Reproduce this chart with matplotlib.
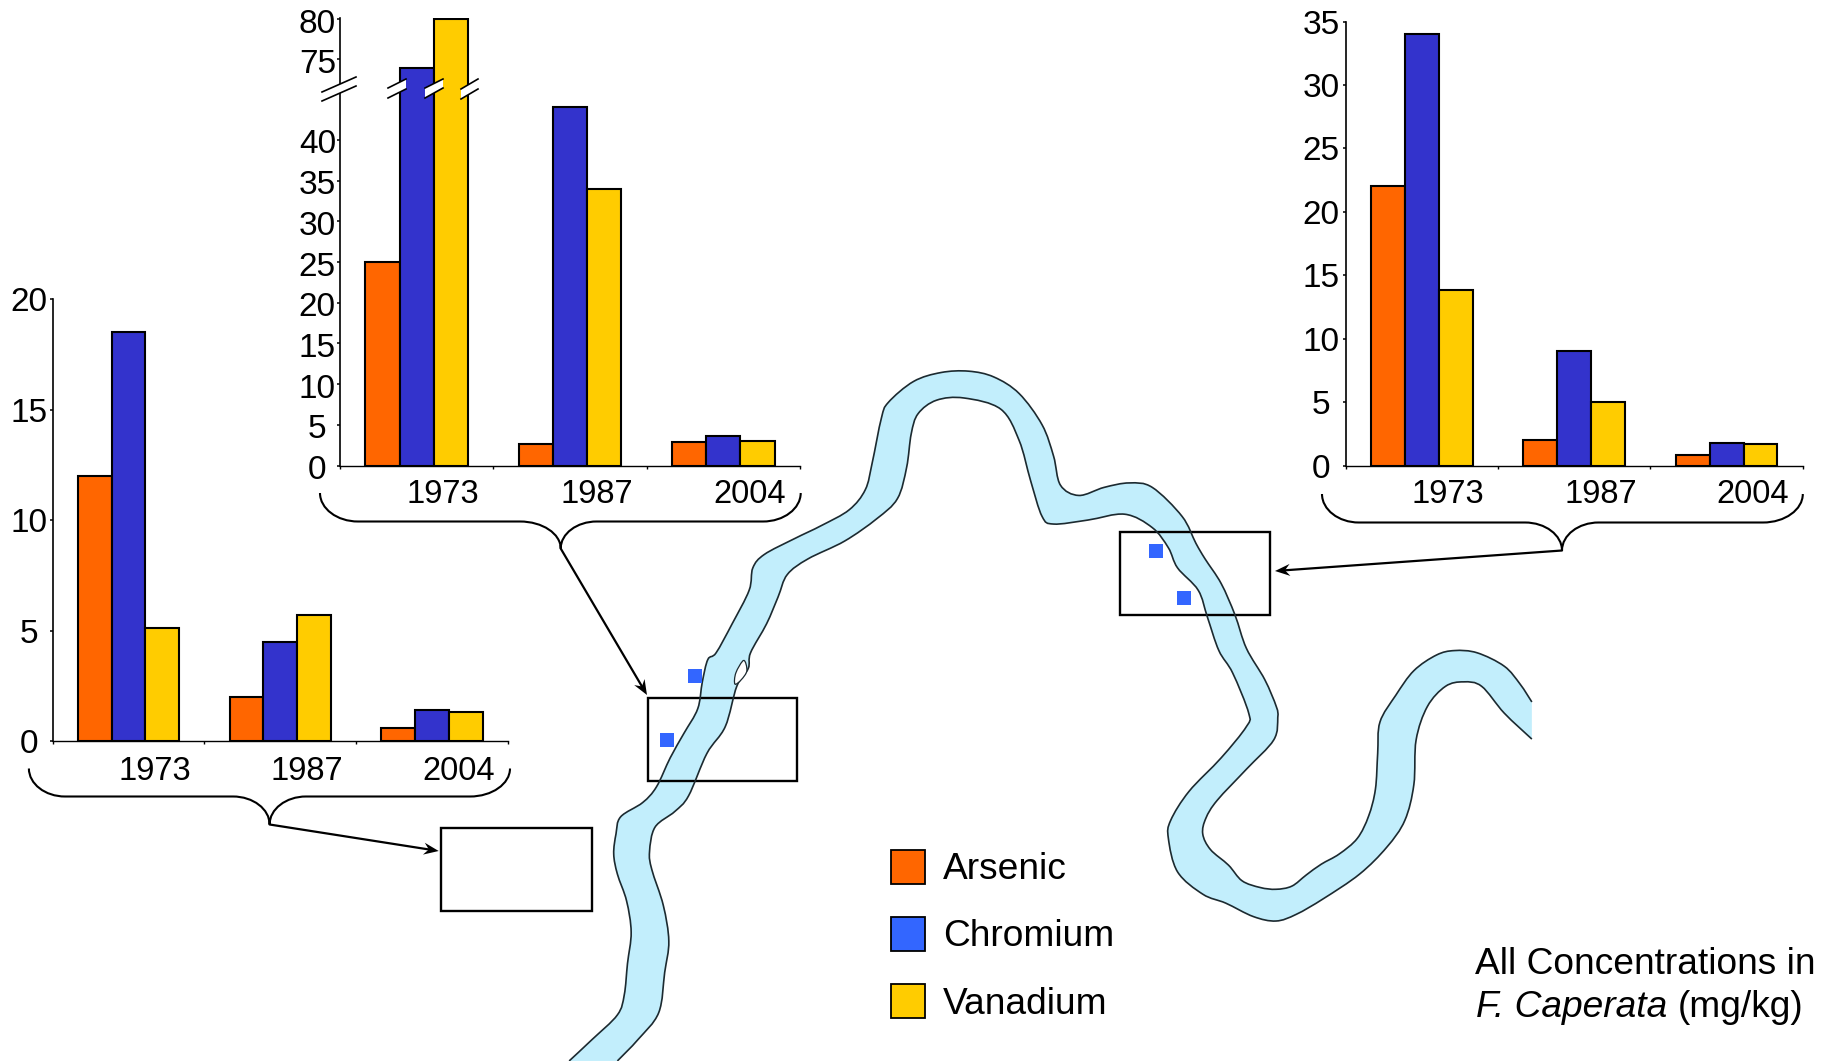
#!/usr/bin/env python3
"""Concentrations d'As, Cr et V dans F. caperata le long de la rivière (3 sites)."""

import numpy as np
import matplotlib
matplotlib.use("Agg")
import matplotlib.pyplot as plt
from matplotlib.patches import PathPatch, Rectangle, Polygon
from matplotlib.path import Path
from matplotlib.transforms import ScaledTranslation

plt.rcParams["font.family"] = ["Liberation Sans", "DejaVu Sans"]

W, H = 1829, 1061
DPI = 100

# ── Données ─────────────────────────────────────────────────────────
years = ["1973", "1987", "2004"]
elements = ["Arsenic", "Chromium", "Vanadium"]

left_arsenic = [12.0, 2.0, 0.6]
left_chromium = [18.5, 4.5, 1.4]
left_vanadium = [5.1, 5.7, 1.3]

mid_arsenic = [25.0, 2.6, 2.9]
mid_chromium = [74.0, 44.0, 3.6]
mid_vanadium = [80.0, 34.0, 3.0]

right_arsenic = [22.0, 2.0, 0.8]
right_chromium = [34.0, 9.0, 1.8]
right_vanadium = [13.8, 5.0, 1.7]

left_ticks = [0, 5, 10, 15, 20]
mid_low_ticks = [0, 5, 10, 15, 20, 25, 30, 35, 40]
mid_high_ticks = [75, 80]
right_ticks = [0, 5, 10, 15, 20, 25, 30, 35]

# Couleurs
ORANGE = "#FF6600"
BAR_BLUE = "#3333CC"
YELLOW = "#FFCC00"
SITE_BLUE = "#3366FF"
WATER = "#C2EEFC"
BANK = "#1c2a30"

# Sites de prélèvement (pixels de l'image)
site_x = [694.5, 666.5, 1155.5, 1183.5]
site_y = [675.5, 739.5, 550.5, 597.5]

# Tracé de la rivière, relevé sur deux vues agrandies (x, y dans la vue)
BANK_A_VIEW1 = [
    (20, 1568), (70, 1520), (125, 1465), (140, 1420), (147, 1350), (155, 1280),
    (145, 1210), (125, 1150), (117, 1105), (122, 1060), (132, 1022), (180, 990),
    (210, 955), (240, 890), (270, 835), (300, 780), (310, 720), (322, 670),
    (340, 655), (375, 590), (412, 515), (420, 465), (445, 435), (510, 400),
    (570, 370), (630, 335), (665, 290), (680, 230), (700, 130), (715, 95),
    (770, 48), (830, 28), (890, 25), (945, 38), (1000, 75), (1050, 145),
    (1075, 215), (1090, 280), (1130, 303), (1185, 285), (1240, 275), (1290, 285),
    (1355, 350), (1385, 410), (1405, 445), (1440, 500), (1470, 570), (1495, 645),
    (1535, 715), (1560, 775),
]
BANK_A_VIEW2 = [
    (349, 800), (340, 850), (280, 915), (215, 985), (190, 1025), (183, 1060),
    (200, 1095), (240, 1130), (270, 1165), (310, 1180), (345, 1184), (380, 1177),
    (412, 1152), (445, 1128), (485, 1105), (525, 1070), (550, 1020), (565, 960),
    (570, 880), (575, 810), (610, 750), (650, 695), (700, 660), (740, 650),
    (790, 655), (850, 685), (885, 725), (911, 765),
]
BANK_B_VIEW1 = [
    (125, 1568), (170, 1520), (215, 1460), (228, 1370), (237, 1300), (225, 1220),
    (200, 1140), (195, 1100), (207, 1045), (250, 1010), (280, 975), (320, 880),
    (360, 820), (385, 730), (410, 690), (415, 655), (450, 590), (475, 530),
    (495, 480), (540, 445), (620, 405), (690, 355), (735, 310), (755, 240),
    (765, 165), (780, 120), (820, 90), (880, 85), (960, 110), (1000, 180),
    (1025, 270), (1050, 350), (1075, 367), (1150, 358), (1230, 345), (1290, 375),
    (1325, 420), (1345, 465), (1390, 515), (1410, 575), (1435, 650), (1465, 700),
    (1500, 790), (1495, 820), (1440, 890), (1370, 965), (1330, 1030), (1325, 1070),
    (1345, 1145), (1400, 1195), (1450, 1215), (1510, 1245),
]
BANK_B_VIEW2 = [
    (345, 1255), (390, 1240), (450, 1205), (530, 1150), (590, 1090), (630, 1030),
    (650, 950), (655, 850), (680, 775), (720, 730), (760, 720), (800, 730),
    (850, 790), (911, 848),
]
ISLAND_VIEW1 = [(400, 672), (407, 695), (395, 715), (381, 725), (383, 700)]


def view1(pts):
    p = np.array(pts, dtype=float)
    return np.column_stack([560 + p[:, 0] / 2.178, 360 + p[:, 1] / 2.237])


def view2(pts):
    p = np.array(pts, dtype=float)
    return np.column_stack([1120 + p[:, 0] / 2.212, 360 + p[:, 1] / 2.237])


def smooth_path(pts, closed=False):
    """Catmull-Rom converti en courbes de Bézier."""
    n = len(pts)
    verts = [pts[0]]
    codes = [Path.MOVETO]
    last = n if closed else n - 1
    for i in range(last):
        if closed:
            p0, p1, p2, p3 = pts[(i - 1) % n], pts[i], pts[(i + 1) % n], pts[(i + 2) % n]
        else:
            p0, p1, p2, p3 = pts[max(i - 1, 0)], pts[i], pts[i + 1], pts[min(i + 2, n - 1)]
        verts += [p1 + (p2 - p0) / 6, p2 - (p3 - p1) / 6, p2]
        codes += [Path.CURVE4] * 3
    return verts, codes


def px_axes(fig, x0, y_top, x1, y_bottom):
    return fig.add_axes([x0 / W, 1 - y_bottom / H, (x1 - x0) / W, (y_bottom - y_top) / H])


def bar_chart(ax, arsenic, chromium, vanadium, ylim, ticks, pad, label_drop, year_drop=None):
    x = np.arange(len(years))
    width = 0.2225
    for off, vals, col in [(-width, arsenic, ORANGE), (0, chromium, BAR_BLUE), (width, vanadium, YELLOW)]:
        ax.bar(x + off, vals, width, color=col, edgecolor="black", linewidth=1.5)
    ax.set_xlim(-0.5, 2.5)
    ax.set_ylim(*ylim)
    ax.patch.set_alpha(0)
    ax.spines[["top", "right"]].set_visible(False)
    ax.spines["left"].set_linewidth(1.2)
    ax.set_yticks(ticks)
    ax.tick_params(axis="y", length=2, width=1.1, labelsize=24, pad=pad)
    # Étiquettes centrées en colonne, décalées comme dans l'original
    shift = ScaledTranslation(0, -label_drop / DPI, ax.figure.dpi_scale_trans)
    for lab in ax.get_yticklabels():
        lab.set_ha("center")
        lab.set_transform(lab.get_transform() + shift)
    if year_drop is not None:
        ax.spines["bottom"].set_linewidth(1.0)
        ax.set_xticks([-0.5, 0.5, 1.5, 2.5])
        ax.set_xticklabels([])
        ax.tick_params(axis="x", direction="out", length=2, width=1.0)
        for i, year in enumerate(years):
            ax.annotate(year, xy=(i + 0.172, 0), xycoords="data", xytext=(0, -year_drop),
                        textcoords="offset points", ha="center", va="baseline", fontsize=23.5)
    else:
        ax.spines["bottom"].set_visible(False)
        ax.set_xticks([])


def brace(ax, xl, x1, xm0, xm, xm1, x2, xr, y_top, y_bar, y_tip):
    k = 0.55
    verts = [
        (xl, y_top),
        (xl, y_top + k * (y_bar - y_top)), (x1 - k * (x1 - xl), y_bar), (x1, y_bar),
        (xm0, y_bar),
        (xm0 + k * (xm - xm0), y_bar), (xm, y_bar + (1 - k) * (y_tip - y_bar)), (xm, y_tip),
        (xm, y_bar + (1 - k) * (y_tip - y_bar)), (xm1 - k * (xm1 - xm), y_bar), (xm1, y_bar),
        (x2, y_bar),
        (x2 + k * (xr - x2), y_bar), (xr, y_top + k * (y_bar - y_top)), (xr, y_top),
    ]
    codes = [Path.MOVETO, Path.CURVE4, Path.CURVE4, Path.CURVE4, Path.LINETO,
             Path.CURVE4, Path.CURVE4, Path.CURVE4, Path.CURVE4, Path.CURVE4, Path.CURVE4,
             Path.LINETO, Path.CURVE4, Path.CURVE4, Path.CURVE4]
    ax.add_patch(PathPatch(Path(verts, codes), fill=False, edgecolor="black", linewidth=1.5))


def arrow(ax, start, end, length=15, half=6, notch=10):
    # Tête à encoche, comme dans l'original
    start = np.array(start, dtype=float)
    end = np.array(end, dtype=float)
    u = (end - start) / np.hypot(*(end - start))
    n = np.array([-u[1], u[0]])
    back = end - u * notch
    ax.plot([start[0], back[0]], [start[1], back[1]], color="black", linewidth=1.6,
            solid_capstyle="round")
    ax.add_patch(Polygon([end, end - u * length + n * half, back, end - u * length - n * half],
                         closed=True, facecolor="black", edgecolor="none"))


def box(ax, x0, y0, x1, y1):
    ax.add_patch(Rectangle((x0, y0), x1 - x0, y1 - y0, fill=False, edgecolor="black", linewidth=1.7))


def main():
    fig = plt.figure(figsize=(W / DPI, H / DPI), dpi=DPI)

    # Calque en pixels pour la carte et les annotations
    ov = fig.add_axes([0, 0, 1, 1])
    ov.set_xlim(0, W)
    ov.set_ylim(H, 0)
    ov.axis("off")

    # ── Rivière ─────────────────────────────────────────────────────
    bank_a = np.vstack([view1(BANK_A_VIEW1), view2(BANK_A_VIEW2)])
    bank_b = np.vstack([view1(BANK_B_VIEW1), view2(BANK_B_VIEW2)])
    va, ca = smooth_path(bank_a)
    vb, cb = smooth_path(bank_b[::-1])
    outline = Path(va + vb[0:1] + vb[1:] + [va[0]],
                   ca + [Path.LINETO] + cb[1:] + [Path.CLOSEPOLY])
    ov.add_patch(PathPatch(outline, facecolor=WATER, edgecolor="none", zorder=1))
    ov.add_patch(PathPatch(Path(va, ca), fill=False, edgecolor=BANK, linewidth=1.2, zorder=2))
    ov.add_patch(PathPatch(Path(vb, cb), fill=False, edgecolor=BANK, linewidth=1.2, zorder=2))
    vi, ci = smooth_path(view1(ISLAND_VIEW1), closed=True)
    ov.add_patch(PathPatch(Path(vi, ci), facecolor="white", edgecolor=BANK, linewidth=0.9, zorder=3))

    # Zones d'étude et sites
    box(ov, 647.7, 697.8, 797.4, 780.6)
    box(ov, 441, 827.8, 591.7, 910.8)
    box(ov, 1120, 531.8, 1269.8, 615)
    ov.scatter(site_x, site_y, marker="s", s=112, color=SITE_BLUE, linewidths=0, zorder=4)

    # ── Histogrammes ────────────────────────────────────────────────
    ax_left = px_axes(fig, 52.6, 299, 508, 741.2)
    bar_chart(ax_left, left_arsenic, left_chromium, left_vanadium, (0, 20), left_ticks, 14.8, 0,
              year_drop=27.8)

    ax_right = px_axes(fig, 1345.5, 21.5, 1802.8, 465.5)
    bar_chart(ax_right, right_arsenic, right_chromium, right_vanadium, (0, 35), right_ticks, 15.6, 0,
              year_drop=27)

    # Graphique central : axe coupé
    ax_low = px_axes(fig, 340, 90.5, 800, 465.5)
    bar_chart(ax_low, mid_arsenic, mid_chromium, mid_vanadium, (0, 46.07), mid_low_ticks, 14.3, 1.5,
              year_drop=26.8)
    ax_high = px_axes(fig, 340, 17.5, 800, 90.5)
    bar_chart(ax_high, mid_arsenic, mid_chromium, mid_vanadium, (71.16, 80.2), mid_high_ticks, 14.3, 1.5)

    # Marques de coupure, par-dessus les barres
    top = fig.add_axes([0, 0, 1, 1])
    top.set_xlim(0, W)
    top.set_ylim(H, 0)
    top.axis("off")
    for x0, x1, y0a, y1a, y0b, y1b in [
        (322, 356, 92, 77, 101, 86),
        (388, 406, 88, 79, 98, 89),
        (425, 443, 88, 79, 98, 88),
        (461, 478, 89, 79, 99, 89),
    ]:
        top.add_patch(Polygon([(x0, y0a), (x1, y1a), (x1, y1b), (x0, y0b)], facecolor="white",
                              edgecolor="none"))
        top.plot([x0, x1], [y0a, y1a], color="black", linewidth=1.2)
        top.plot([x0, x1], [y0b, y1b], color="black", linewidth=1.2)

    # Accolades et flèches
    brace(top, 28.9, 65, 233, 269.6, 306, 470, 510, 768.5, 796.5, 824.5)
    brace(top, 320, 358, 520, 560.7, 596.7, 763, 800.7, 493, 521.5, 548.5)
    brace(top, 1322, 1358.8, 1525, 1562, 1598.6, 1763, 1802.8, 494, 522.5, 550.5)
    arrow(top, (269.6, 824.5), (438.7, 851))
    arrow(top, (560.7, 548.5), (647, 695))
    arrow(top, (1562, 550.5), (1275, 571))

    # ── Légende ─────────────────────────────────────────────────────
    legend_colors = [ORANGE, SITE_BLUE, YELLOW]
    legend_box_y = [850, 917, 984]
    legend_text_y = [879, 946.5, 1014]
    for name, col, yb, yt in zip(elements, legend_colors, legend_box_y, legend_text_y):
        top.add_patch(Rectangle((891, yb), 33.5, 33.5, facecolor=col, edgecolor="black", linewidth=1.3))
        top.text(942.8, yt, name, fontsize=26.7, ha="left", va="baseline")

    # Note d'unités
    top.text(1475, 973.5, "All Concentrations in", fontsize=26.7, ha="left", va="baseline")
    top.text(1476, 1017, "F. Caperata", fontsize=26.7, style="italic", ha="left", va="baseline")
    top.text(1678, 1017, "(mg/kg)", fontsize=26.7, ha="left", va="baseline")

    fig.savefig("out.png", dpi=DPI)
    plt.close(fig)


if __name__ == "__main__":
    main()
